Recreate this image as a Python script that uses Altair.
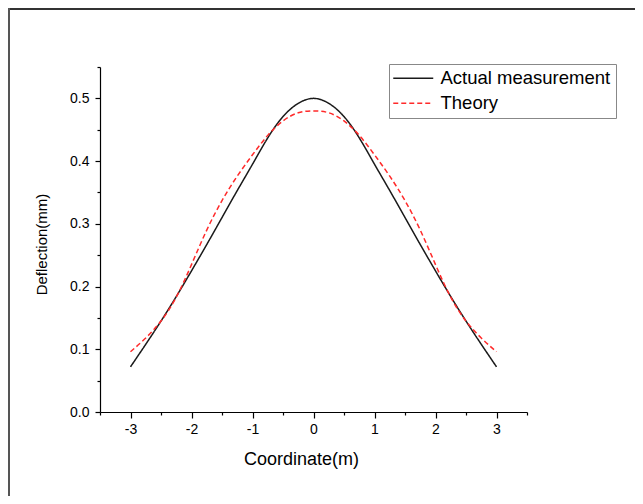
import altair as alt
import pandas as pd

coord = [-3.0, -2.75, -2.5, -2.25, -2.0, -1.75, -1.5, -1.25, -1.0, -0.75, -0.5, -0.25, 0.0,
         0.25, 0.5, 0.75, 1.0, 1.25, 1.5, 1.75, 2.0, 2.25, 2.5, 2.75, 3.0]
actual = [0.072, 0.108, 0.145, 0.184, 0.225, 0.267, 0.310, 0.353, 0.395, 0.437, 0.471, 0.492, 0.500,
          0.492, 0.471, 0.437, 0.395, 0.353, 0.310, 0.267, 0.225, 0.184, 0.145, 0.108, 0.072]
theory = [0.096, 0.118, 0.145, 0.183, 0.235, 0.290, 0.337, 0.376, 0.410, 0.441, 0.464, 0.477, 0.480,
          0.477, 0.464, 0.441, 0.410, 0.376, 0.337, 0.290, 0.235, 0.183, 0.145, 0.118, 0.096]
series_names = ["Actual measurement", "Theory"]
x_ticks = [-3.5, -3, -2.5, -2, -1.5, -1, -0.5, 0, 0.5, 1, 1.5, 2, 2.5, 3, 3.5]
y_ticks = [0, 0.05, 0.1, 0.15, 0.2, 0.25, 0.3, 0.35, 0.4, 0.45, 0.5, 0.55]

rows = []
for name, vals in zip(series_names, [actual, theory]):
    for c, v in zip(coord, vals):
        rows.append({"coord": c, "deflection": v, "series": name})
df = pd.DataFrame(rows)

FONT = "Liberation Sans"

legend_opts = dict(title=None, orient="none", legendX=289, legendY=-3,
                   symbolType="M-1.6667,0H5", symbolSize=144, symbolStrokeWidth=1.5,
                   labelOffset=28, labelFontSize=18.5, labelFont=FONT, labelColor="black",
                   labelLimit=0, strokeColor="#888888", fillColor="white", padding=5, rowPadding=6)

lines = alt.Chart(df).mark_line(strokeWidth=1.5, interpolate="natural").encode(
    x=alt.X("coord:Q", title="Coordinate(m)",
            scale=alt.Scale(domain=[-3.5, 3.5], nice=False, zero=False),
            axis=alt.Axis(values=x_ticks, grid=False, titleFontSize=18, titleX=201,
                          labelExpr="abs(datum.value - round(datum.value)) < 0.01 ? '' + round(datum.value) : ''",
                          tickSize={"condition": {"test": "abs(datum.value - round(datum.value)) > 0.01", "value": 3}, "value": 6},
                          labelPadding=4, titlePadding=14)),
    y=alt.Y("deflection:Q", title="Deflection(mm)",
            scale=alt.Scale(domain=[0, 0.55], nice=False, zero=False),
            axis=alt.Axis(values=y_ticks, grid=False, titleFontSize=15, titleY=177,
                          labelExpr="abs(datum.value*10 - round(datum.value*10)) < 0.01 ? format(datum.value, '.1f') : ''",
                          tickSize={"condition": {"test": "abs(datum.value*10 - round(datum.value*10)) > 0.01", "value": 3}, "value": 5},
                          labelPadding=6, titlePadding=20)),
    color=alt.Color("series:N", scale=alt.Scale(domain=series_names, range=["#1a1a1a", "#ff2a2a"]),
                    legend=alt.Legend(**legend_opts)),
    strokeDash=alt.StrokeDash("series:N", scale=alt.Scale(domain=series_names, range=[[1, 0], [5, 3]]),
                              legend=alt.Legend(**legend_opts)),
)

one = pd.DataFrame({"a": [0]})
frame_top = alt.Chart(one).mark_rule(color="#333333", strokeWidth=2).encode(
    x=alt.value(-95), x2=alt.value(600), y=alt.value(-58))
frame_left = alt.Chart(one).mark_rule(color="#555555", strokeWidth=2).encode(
    x=alt.value(-91), y=alt.value(-60), y2=alt.value(500))

chart = alt.layer(frame_top, frame_left, lines).properties(
    width=427, height=345,
    padding={"left": 92, "top": 59, "right": 108, "bottom": 84},
    autosize=alt.AutoSizeParams(type="none"),
).configure_view(stroke=None).configure_axis(
    domainColor="black", tickColor="black", labelColor="black", titleColor="black",
    labelFont=FONT, titleFont=FONT, labelFontSize=14, titleFontWeight="normal",
    domainWidth=1.2, tickWidth=1.2,
)

chart.save("out.html", embed_options={"renderer": "svg", "actions": False})
